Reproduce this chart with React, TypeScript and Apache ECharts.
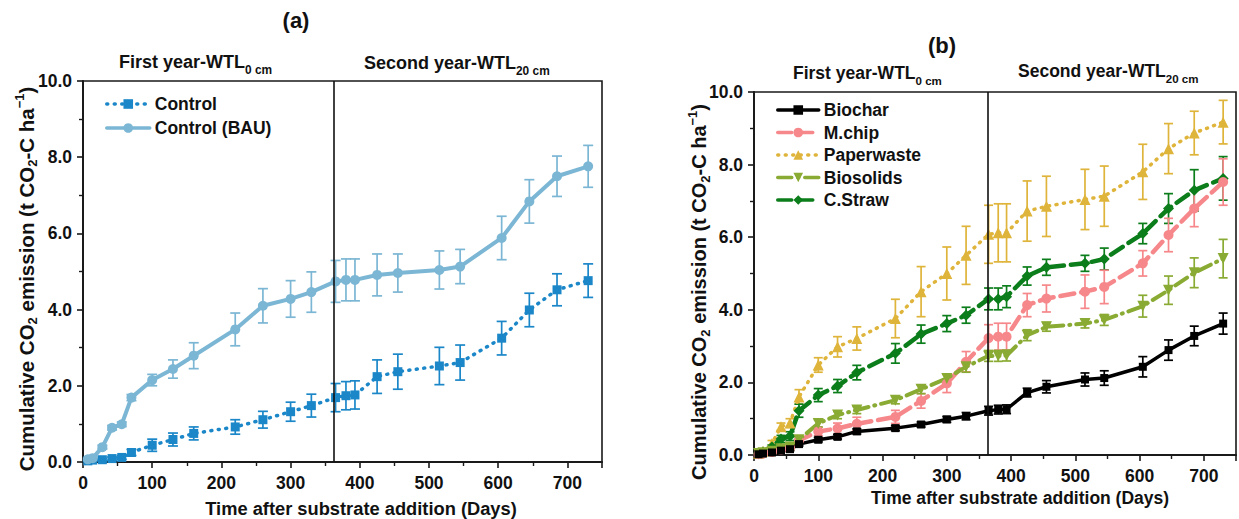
import React, { useEffect, useRef } from "react";
import * as echarts from "echarts";

// Sampling days (days after substrate addition)
const days = [7, 14, 28, 42, 56, 70, 100, 130, 160, 220, 260, 300, 330, 365, 380, 393, 425, 455, 515, 545, 605, 645, 685, 730];
const yearBoundary = 363;

// Panel (a)
const controlValues = [0.03, 0.05, 0.06, 0.09, 0.12, 0.25, 0.44, 0.59, 0.75, 0.92, 1.11, 1.32, 1.48, 1.69, 1.74, 1.76, 2.24, 2.37, 2.52, 2.61, 3.25, 3.99, 4.52, 4.76];
const controlErr = [0.02, 0.02, 0.03, 0.04, 0.05, 0.08, 0.16, 0.17, 0.17, 0.19, 0.22, 0.25, 0.3, 0.37, 0.37, 0.37, 0.44, 0.46, 0.49, 0.46, 0.44, 0.44, 0.42, 0.44];
const bauValues = [0.07, 0.1, 0.39, 0.9, 0.99, 1.69, 2.15, 2.44, 2.79, 3.48, 4.1, 4.28, 4.46, 4.74, 4.78, 4.78, 4.91, 4.96, 5.04, 5.13, 5.88, 6.84, 7.5, 7.76];
const bauErr = [0.03, 0.03, 0.05, 0.06, 0.06, 0.08, 0.15, 0.24, 0.34, 0.43, 0.45, 0.48, 0.53, 0.55, 0.55, 0.55, 0.55, 0.5, 0.5, 0.45, 0.57, 0.57, 0.53, 0.55];

// Panel (b)
const biocharValues = [0.02, 0.04, 0.07, 0.12, 0.16, 0.3, 0.42, 0.5, 0.65, 0.74, 0.84, 0.98, 1.07, 1.22, 1.25, 1.26, 1.72, 1.88, 2.08, 2.12, 2.43, 2.89, 3.28, 3.62];
const biocharErr = [0.02, 0.02, 0.03, 0.03, 0.04, 0.05, 0.06, 0.06, 0.07, 0.07, 0.07, 0.08, 0.1, 0.12, 0.12, 0.12, 0.12, 0.17, 0.18, 0.2, 0.28, 0.28, 0.27, 0.29];
const mchipValues = [0.02, 0.04, 0.08, 0.14, 0.2, 0.4, 0.65, 0.73, 0.86, 1.05, 1.49, 1.97, 2.57, 3.22, 3.26, 3.26, 4.13, 4.31, 4.5, 4.63, 5.28, 6.06, 6.79, 7.52];
const mchipErr = [0.02, 0.02, 0.03, 0.04, 0.05, 0.06, 0.12, 0.15, 0.18, 0.18, 0.2, 0.25, 0.28, 0.37, 0.37, 0.37, 0.32, 0.37, 0.46, 0.46, 0.35, 0.46, 0.5, 0.64];
const paperValues = [0.05, 0.1, 0.32, 0.78, 0.88, 1.6, 2.48, 2.98, 3.21, 3.76, 4.5, 5.0, 5.5, 6.08, 6.12, 6.12, 6.72, 6.85, 7.04, 7.13, 7.8, 8.44, 8.87, 9.17];
const paperErr = [0.03, 0.04, 0.08, 0.1, 0.12, 0.2, 0.2, 0.28, 0.32, 0.53, 0.69, 0.73, 0.8, 0.8, 0.8, 0.8, 0.83, 0.83, 0.83, 0.83, 0.76, 0.69, 0.6, 0.6];
const biosolidsValues = [0.04, 0.06, 0.1, 0.17, 0.22, 0.42, 0.87, 1.1, 1.24, 1.51, 1.81, 2.11, 2.43, 2.73, 2.73, 2.74, 3.3, 3.53, 3.62, 3.72, 4.1, 4.54, 5.02, 5.41];
const biosolidsErr = [0.02, 0.02, 0.03, 0.04, 0.05, 0.06, 0.1, 0.1, 0.1, 0.1, 0.12, 0.12, 0.15, 0.15, 0.15, 0.15, 0.15, 0.12, 0.12, 0.15, 0.3, 0.39, 0.41, 0.53];
const cstrawValues = [0.05, 0.08, 0.22, 0.44, 0.52, 1.22, 1.65, 1.9, 2.27, 2.8, 3.33, 3.62, 3.85, 4.3, 4.3, 4.36, 4.93, 5.17, 5.28, 5.4, 6.1, 6.79, 7.29, 7.62];
const cstrawErr = [0.03, 0.03, 0.06, 0.1, 0.12, 0.18, 0.18, 0.18, 0.2, 0.27, 0.25, 0.22, 0.22, 0.3, 0.3, 0.3, 0.25, 0.22, 0.22, 0.3, 0.28, 0.41, 0.57, 0.6];

const legendA = ["Control", "Control (BAU)"];
const legendB = ["Biochar", "M.chip", "Paperwaste", "Biosolids", "C.Straw"];

const FONT = "'Liberation Sans', Arial, Helvetica, sans-serif";
const AX = "#1a1a1a";

function errorSeries(values: number[], errs: number[], color: string, idx: number, cap: number) {
  return {
    type: "custom",
    xAxisIndex: idx,
    yAxisIndex: idx,
    silent: true,
    z: 2,
    data: days.map((d, i) => [d, values[i] - errs[i], values[i] + errs[i]]),
    encode: { x: 0, y: [1, 2] },
    renderItem: (_p: any, api: any) => {
      const x = api.value(0);
      const lo = api.coord([x, api.value(1)]);
      const hi = api.coord([x, api.value(2)]);
      const st = { stroke: color, lineWidth: 1.7 };
      return {
        type: "group",
        children: [
          { type: "line", shape: { x1: lo[0], y1: lo[1], x2: hi[0], y2: hi[1] }, style: st },
          { type: "line", shape: { x1: lo[0] - cap, y1: lo[1], x2: lo[0] + cap, y2: lo[1] }, style: st },
          { type: "line", shape: { x1: hi[0] - cap, y1: hi[1], x2: hi[0] + cap, y2: hi[1] }, style: st },
        ],
      };
    },
  };
}

function lineSeries(name: string, values: number[], color: string, idx: number, symbol: string, size: number, type: any, width: number, rotate = 0) {
  return {
    type: "line",
    name,
    xAxisIndex: idx,
    yAxisIndex: idx,
    data: days.map((d, i) => [d, values[i]]),
    symbol,
    symbolSize: size,
    symbolRotate: rotate,
    showSymbol: true,
    z: 3,
    itemStyle: { color },
    lineStyle: { color, width, type, cap: "round" },
  };
}

function xAxisDef(idx: number) {
  return {
    type: "value",
    gridIndex: idx,
    min: 0,
    max: 750,
    interval: 100,
    axisLine: { show: true, onZero: false, lineStyle: { color: AX, width: 2 } },
    axisTick: { show: true, inside: false, length: 6, lineStyle: { color: AX, width: 1.6 } },
    minorTick: { show: true, splitNumber: 2, length: 4, lineStyle: { color: AX, width: 1.4 } },
    splitLine: { show: false },
    minorSplitLine: { show: false },
    axisLabel: {
      formatter: (v: number) => (v % 100 === 0 ? String(v) : ""),
      fontSize: 17.5,
      fontWeight: "bold",
      fontFamily: FONT,
      color: "#111",
      margin: 12,
    },
  };
}

function yAxisDef(idx: number) {
  return {
    type: "value",
    gridIndex: idx,
    min: 0,
    max: 10,
    interval: 2,
    axisLine: { show: true, onZero: false, lineStyle: { color: AX, width: 2 } },
    axisTick: { show: true, inside: false, length: 6, lineStyle: { color: AX, width: 1.6 } },
    minorTick: { show: true, splitNumber: 2, length: 4, lineStyle: { color: AX, width: 1.4 } },
    splitLine: { show: false },
    minorSplitLine: { show: false },
    axisLabel: {
      formatter: (v: number) => v.toFixed(1),
      fontSize: 17.5,
      fontWeight: "bold",
      fontFamily: FONT,
      color: "#111",
      margin: 11,
    },
  };
}

function sectionTitle(main: string, sub: string, x: number, y: number, size: number) {
  return {
    type: "text",
    x,
    y,
    silent: true,
    style: {
      text: main + "{s|" + sub + "}",
      fontSize: size,
      fontWeight: "bold",
      fontFamily: FONT,
      fill: "#111",
      lineHeight: 28,
      align: "left",
      verticalAlign: "middle",
      rich: {
        s: { fontSize: size * 0.66, fontWeight: "bold", fontFamily: FONT, fill: "#111", lineHeight: 12, verticalAlign: "bottom" },
      },
    },
  };
}

function yTitle(x: number, y: number, size: number) {
  return {
    type: "text",
    x,
    y,
    rotation: Math.PI / 2,
    silent: true,
    style: {
      text: "Cumulative CO{s|2} emission (t CO{s|2}-C ha{p|−1})",
      fontSize: size,
      fontWeight: "bold",
      fontFamily: FONT,
      fill: "#111",
      lineHeight: 26,
      align: "center",
      verticalAlign: "middle",
      rich: {
        s: { fontSize: 13, fontWeight: "bold", fontFamily: FONT, fill: "#111", lineHeight: 13, verticalAlign: "bottom" },
        p: { fontSize: 13, fontWeight: "bold", fontFamily: FONT, fill: "#111", lineHeight: 13, verticalAlign: "top" },
      },
    },
  };
}

function plainText(text: string, x: number, y: number, size: number) {
  return {
    type: "text",
    x,
    y,
    silent: true,
    style: { text, fontSize: size, fontWeight: "bold", fontFamily: FONT, fill: "#111", align: "center", verticalAlign: "middle" },
  };
}

const C_CONTROL = "#1b87c8";
const C_BAU = "#7bb6d4";
const C_BIOCHAR = "#000000";
const C_MCHIP = "#f6878a";
const C_PAPER = "#dfb43a";
const C_BIOSOLIDS = "#8aab33";
const C_CSTRAW = "#0b7d1a";

const dotted = [1, 6.5];
const dashed = [14, 7];
const dashDot = [14, 6, 1, 6];

export default function App() {
  const ref = useRef<HTMLDivElement>(null);
  useEffect(() => {
    if (!ref.current) return;
    const chart = echarts.init(ref.current, undefined, { renderer: "svg" });
    const boundaryLine = (idx: number) => ({
      type: "line",
      xAxisIndex: idx,
      yAxisIndex: idx,
      data: [],
      silent: true,
      markLine: {
        silent: true,
        symbol: ["none", "none"],
        label: { show: false },
        lineStyle: { color: "#111", width: 1.6, type: "solid" },
        data: [{ xAxis: yearBoundary }],
      },
    });
    const legendText = { fontSize: 17.5, fontWeight: "bold", fontFamily: FONT, color: "#111", lineHeight: 20 };
    chart.setOption({
      animation: false,
      backgroundColor: "#ffffff",
      grid: [
        { left: 83, top: 81, width: 519, height: 381, show: true, borderColor: AX, borderWidth: 1.6, backgroundColor: "transparent" },
        { left: 754, top: 92, width: 493.5, height: 363, show: true, borderColor: AX, borderWidth: 1.6, backgroundColor: "transparent" },
      ],
      xAxis: [xAxisDef(0), xAxisDef(1)],
      yAxis: [yAxisDef(0), yAxisDef(1)],
      legend: [
        {
          data: legendA,
          orient: "vertical",
          left: 100,
          top: 89,
          itemWidth: 43,
          itemHeight: 12,
          itemGap: 4,
          selectedMode: false,
          textStyle: legendText,
          lineStyle: { width: 3.5 },
        },
        {
          data: legendB,
          orient: "vertical",
          left: 771,
          top: 95,
          itemWidth: 41,
          itemHeight: 12,
          itemGap: 2.5,
          selectedMode: false,
          textStyle: legendText,
          lineStyle: { width: 3.5 },
        },
      ],
      series: [
        boundaryLine(0),
        boundaryLine(1),
        errorSeries(controlValues, controlErr, C_CONTROL, 0, 5),
        errorSeries(bauValues, bauErr, C_BAU, 0, 5),
        lineSeries("Control", controlValues, C_CONTROL, 0, "rect", 9, dotted, 3.5),
        lineSeries("Control (BAU)", bauValues, C_BAU, 0, "circle", 10, "solid", 4),
        errorSeries(paperValues, paperErr, C_PAPER, 1, 4.5),
        errorSeries(cstrawValues, cstrawErr, C_CSTRAW, 1, 4.5),
        errorSeries(mchipValues, mchipErr, C_MCHIP, 1, 4.5),
        errorSeries(biosolidsValues, biosolidsErr, C_BIOSOLIDS, 1, 4.5),
        errorSeries(biocharValues, biocharErr, C_BIOCHAR, 1, 4.5),
        lineSeries("Paperwaste", paperValues, C_PAPER, 1, "triangle", 11, dotted, 3.5),
        lineSeries("C.Straw", cstrawValues, C_CSTRAW, 1, "diamond", 11, dashed, 4.5),
        lineSeries("M.chip", mchipValues, C_MCHIP, 1, "circle", 10, dashed, 4.5),
        lineSeries("Biosolids", biosolidsValues, C_BIOSOLIDS, 1, "triangle", 11, dashDot, 4, 180),
        lineSeries("Biochar", biocharValues, C_BIOCHAR, 1, "rect", 8, "solid", 3.5),
      ],
      graphic: {
        elements: [
          plainText("(a)", 296, 20, 22),
          plainText("(b)", 942, 45, 22),
          sectionTitle("First year-WTL", "0 cm", 119, 62, 18),
          sectionTitle("Second year-WTL", "20 cm", 364, 63, 18),
          sectionTitle("First year-WTL", "0 cm", 793, 73, 17.5),
          sectionTitle("Second year-WTL", "20 cm", 1018, 71, 17.5),
          yTitle(26, 279, 20.5),
          yTitle(699, 292, 20),
          plainText("Time after substrate addition (Days)", 361, 508, 18.3),
          plainText("Time after substrate addition (Days)", 1020, 498, 17.5),
        ],
      },
    });
    return () => chart.dispose();
  }, []);
  return (
    <div
      ref={ref}
      style={{ position: "absolute", left: 0, top: 0, width: 1239, height: 519, background: "#fff" }}
    />
  );
}
